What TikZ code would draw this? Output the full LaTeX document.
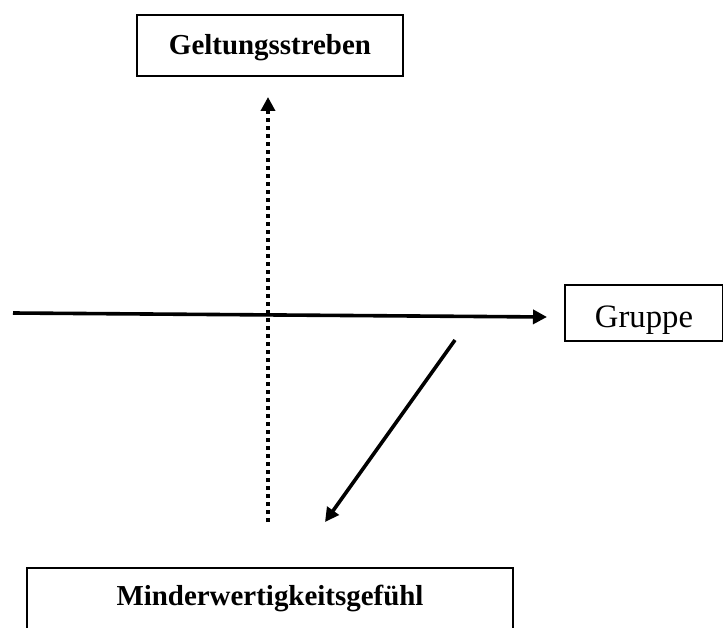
\documentclass[tikz,border=0pt]{standalone}
\usepackage{fontspec}
\setmainfont{Liberation Serif}
\usetikzlibrary{arrows.meta}
\begin{document}
\begin{tikzpicture}[x=1pt,y=1pt,
  labelbox/.style={draw=black, line width=1.6pt, inner sep=0pt, text depth=0pt},
  tip/.style={-{Triangle[length=14pt,width=14pt]}},
  solidarrow/.style={tip, line width=3.6pt},
  dottedarrow/.style={tip, line width=3.6pt, dash pattern=on 4pt off 4pt}]
\useasboundingbox (0,0) rectangle (723,-628);
\fill[white] (0,0) rectangle (723,-628);
\node[labelbox, minimum width=266pt, minimum height=61pt, text height=19pt] (geltung) at (270,-45.5)
  {\resizebox{202pt}{!}{\bfseries Geltungsstreben}};
\node[labelbox, minimum width=158pt, minimum height=56pt, text height=28pt] (gruppe) at (644,-313)
  {\resizebox{98pt}{!}{Gruppe}};
\node[labelbox, minimum width=486pt, minimum height=76pt, text height=9pt, text depth=11pt] (minder) at (270,-606)
  {\resizebox{307pt}{!}{\bfseries Minderwertigkeitsgef\"uhl}};
\coordinate (vbot) at (268,-522);
\coordinate (vtop) at (268,-97);
\coordinate (hleft) at (13,-313);
\coordinate (hright) at (547,-317);
\coordinate (dstart) at (455,-340);
\coordinate (dend) at (325,-522);
\draw[dottedarrow] (vbot) -- (vtop);
\draw[solidarrow] (hleft) -- (hright);
\draw[solidarrow] (dstart) -- (dend);
\end{tikzpicture}
\end{document}
